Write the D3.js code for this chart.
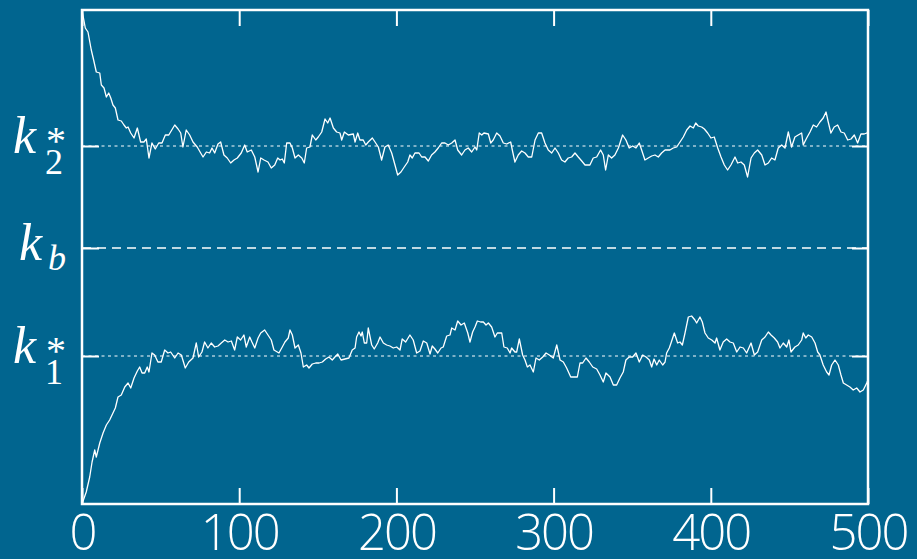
<!DOCTYPE html>
<html>
<head>
<meta charset="utf-8">
<script src="https://cdn.jsdelivr.net/npm/d3@7/dist/d3.min.js"></script>
<style>
  html, body { margin: 0; padding: 0; background: #01658f; }
  svg { display: block; }
</style>
</head>
<body>
<div id="chart"></div>
<script>
// 数据：两条轨迹 (t, k)，以及参考水平
const upperT = [0,2.1,3.8,5.9,7.4,9.1,11.3,12.3,14.0,15.5,17.0,18.3,19.7,21.2,22.9,25.0,26.7,28.2,29.3,31.0,33.1,35.2,37.3,39.4,40.9,42.6,44.5,46.6,48.8,50.9,53.0,55.2,59.0,61.1,62.8,64.2,66.3,68.5,70.6,73.3,75.5,77.0,79.1,81.2,82.7,84.4,86.5,88.2,90.3,92.4,94.6,96.7,98.8,101.3,103.5,105.1,107.7,109.9,112.0,113.7,115.8,118.3,120.4,122.6,124.5,126.0,127.4,128.7,130.2,132.3,133.8,135.5,137.6,139.8,141.4,142.9,145.0,146.5,148.7,150.3,152.5,154.6,156.3,157.8,159.9,162.0,164.1,165.2,166.9,169.4,172.6,173.7,175.4,176.8,178.9,180.5,182.1,184.7,186.4,188.5,190.6,192.7,194.8,197.0,199.1,200.8,202.9,205.0,207.2,208.6,210.1,211.8,214.4,216.1,218.2,220.3,222.4,224.5,226.6,228.8,230.9,233.0,235.2,237.3,239.0,241.5,243.6,245.7,247.9,250.0,251.1,252.7,254.3,255.7,258.5,260.0,261.6,263.8,265.9,268.0,270.2,272.7,274.0,275.4,277.5,279.7,281.8,283.9,286.1,288.2,290.3,292.4,294.5,296.6,298.8,300.9,303.0,305.1,307.2,309.3,311.5,313.6,315.7,317.9,320.0,323.1,325.2,327.4,329.9,331.6,333.1,334.8,336.9,339.0,341.2,343.9,346.0,348.1,350.3,352.4,354.5,356.0,358.1,360.2,362.4,364.5,366.6,368.7,370.9,374.0,376.1,378.3,380.4,382.5,384.7,386.8,388.9,390.4,392.0,394.2,395.9,398.0,400.1,402.2,404.4,406.5,408.6,410.7,412.8,415.4,417.1,419.2,421.3,423.4,425.6,427.7,429.8,432.4,434.5,436.6,438.7,440.8,442.9,445.1,447.2,449.3,451.4,453.5,455.6,457.8,458.8,461.0,463.1,465.2,467.3,469.4,471.5,473.3,474.7,476.4,478.5,480.7,482.8,484.9,487.1,489.2,491.3,493.4,495.5,497.6,499.2,500];
const upperK = [4.94,4.76,4.72,4.54,4.44,4.32,4.31,4.19,4.16,4.07,4.11,4.06,3.99,3.96,3.84,3.83,3.79,3.76,3.77,3.71,3.66,3.76,3.62,3.62,3.65,3.46,3.61,3.55,3.61,3.61,3.69,3.69,3.79,3.75,3.71,3.57,3.74,3.69,3.62,3.57,3.51,3.47,3.52,3.51,3.56,3.51,3.60,3.62,3.49,3.46,3.41,3.44,3.46,3.51,3.59,3.52,3.54,3.47,3.32,3.46,3.44,3.42,3.36,3.39,3.46,3.44,3.45,3.41,3.61,3.61,3.56,3.46,3.49,3.46,3.41,3.56,3.57,3.69,3.64,3.67,3.72,3.85,3.81,3.86,3.76,3.72,3.71,3.64,3.72,3.69,3.70,3.62,3.71,3.64,3.64,3.59,3.62,3.66,3.62,3.57,3.44,3.57,3.59,3.51,3.39,3.29,3.32,3.37,3.42,3.49,3.46,3.51,3.51,3.47,3.47,3.43,3.49,3.52,3.56,3.61,3.61,3.59,3.61,3.64,3.54,3.49,3.54,3.56,3.52,3.57,3.54,3.71,3.69,3.71,3.70,3.61,3.64,3.71,3.68,3.61,3.60,3.62,3.52,3.42,3.49,3.53,3.51,3.47,3.47,3.64,3.71,3.71,3.61,3.54,3.51,3.56,3.51,3.44,3.42,3.46,3.47,3.51,3.47,3.43,3.39,3.39,3.46,3.47,3.54,3.49,3.34,3.49,3.46,3.49,3.56,3.69,3.64,3.56,3.58,3.56,3.61,3.54,3.44,3.46,3.48,3.49,3.47,3.51,3.54,3.54,3.56,3.57,3.62,3.67,3.74,3.78,3.76,3.81,3.78,3.77,3.75,3.71,3.66,3.67,3.56,3.47,3.39,3.34,3.39,3.47,3.41,3.42,3.39,3.27,3.46,3.51,3.54,3.49,3.39,3.41,3.46,3.44,3.56,3.59,3.56,3.72,3.57,3.67,3.69,3.71,3.59,3.66,3.72,3.79,3.77,3.82,3.86,3.92,3.82,3.71,3.77,3.79,3.72,3.71,3.64,3.65,3.69,3.61,3.70,3.70,3.71,3.71];

const lowerT = [0,2.7,4.9,6.4,8.1,9.1,11.3,13.4,15.5,17.6,19.7,21.2,22.9,25.0,27.2,29.3,31.0,33.1,35.2,36.7,38.2,39.9,41.5,42.6,44.5,46.2,48.3,50.4,52.6,54.7,56.4,59.0,61.1,63.2,65.7,67.9,70.6,72.7,74.2,76.3,78.0,80.1,82.2,84.4,86.5,88.6,90.8,92.9,95.0,97.1,98.8,100.9,103.0,104.5,106.7,108.1,109.9,112.0,113.7,116.2,118.3,120.4,122.1,125.3,127.4,129.1,131.2,132.3,133.8,135.5,137.6,139.3,140.8,142.9,144.4,146.5,148.7,150.8,152.9,155.0,157.1,159.2,160.9,162.7,164.8,167.3,169.8,171.9,173.7,174.7,176.2,177.5,178.3,179.6,181.1,182.1,184.3,185.9,188.1,189.6,191.7,193.8,195.9,198.0,200.2,202.3,203.7,205.9,208.6,210.7,212.9,215.0,217.1,219.3,221.4,222.8,224.5,226.3,228.4,229.8,232.0,234.1,235.2,237.3,239.0,241.1,243.2,245.4,246.8,248.5,250.0,251.5,253.6,255.3,257.0,258.5,260.6,262.7,264.2,267.0,268.4,270.5,272.3,273.3,275.4,276.5,278.2,280.3,281.8,283.3,285.0,287.1,288.8,290.9,293.1,295.2,297.3,299.8,302.0,304.1,306.2,308.3,310.9,313.6,315.1,316.8,318.5,320.6,322.7,324.9,327.4,329.5,331.6,333.3,335.9,338.0,340.1,342.2,344.3,346.0,348.1,350.3,352.4,354.5,356.7,358.8,360.9,362.4,363.9,365.6,367.2,369.4,370.9,371.9,373.6,374.7,376.8,378.9,380.4,381.9,383.6,385.7,387.8,389.9,391.0,393.1,394.6,396.3,398.4,400.6,402.7,403.7,405.8,407.9,410.1,412.2,414.3,416.5,418.6,420.7,422.8,425.6,427.7,429.8,432.4,434.5,436.6,438.3,440.4,442.5,444.0,446.1,448.3,449.7,451.0,453.5,455.6,457.8,458.8,460.4,462.0,464.2,466.3,468.0,469.4,471.5,473.7,475.2,476.9,479.0,481.1,482.8,484.3,486.4,488.5,490.6,492.8,494.9,497.0,499.2,500];
const lowerK = [0.00,0.12,0.27,0.42,0.54,0.47,0.61,0.71,0.79,0.84,0.91,0.96,1.07,1.09,1.17,1.21,1.16,1.26,1.33,1.37,1.31,1.31,1.37,1.32,1.51,1.49,1.42,1.42,1.54,1.51,1.52,1.46,1.51,1.49,1.36,1.42,1.46,1.61,1.47,1.52,1.62,1.56,1.61,1.57,1.58,1.61,1.64,1.62,1.63,1.54,1.67,1.64,1.69,1.57,1.67,1.62,1.56,1.66,1.71,1.74,1.69,1.64,1.54,1.51,1.57,1.62,1.66,1.74,1.69,1.56,1.59,1.51,1.37,1.39,1.36,1.40,1.41,1.41,1.42,1.45,1.47,1.44,1.47,1.50,1.44,1.45,1.46,1.54,1.56,1.67,1.72,1.68,1.72,1.61,1.61,1.76,1.59,1.55,1.61,1.67,1.61,1.59,1.58,1.56,1.57,1.54,1.65,1.62,1.69,1.64,1.51,1.53,1.63,1.61,1.50,1.58,1.55,1.51,1.56,1.57,1.68,1.69,1.76,1.74,1.83,1.79,1.81,1.71,1.62,1.72,1.77,1.83,1.82,1.82,1.79,1.81,1.77,1.67,1.71,1.71,1.57,1.56,1.51,1.56,1.52,1.52,1.65,1.49,1.44,1.37,1.39,1.32,1.46,1.44,1.47,1.51,1.49,1.46,1.59,1.44,1.42,1.36,1.27,1.27,1.27,1.41,1.41,1.46,1.42,1.37,1.35,1.29,1.22,1.31,1.27,1.19,1.19,1.26,1.32,1.44,1.47,1.47,1.51,1.42,1.49,1.47,1.44,1.37,1.45,1.39,1.44,1.39,1.42,1.51,1.56,1.61,1.71,1.61,1.62,1.59,1.71,1.87,1.88,1.84,1.81,1.87,1.82,1.71,1.66,1.64,1.61,1.66,1.54,1.62,1.65,1.62,1.61,1.52,1.57,1.56,1.51,1.61,1.49,1.52,1.64,1.67,1.72,1.69,1.66,1.62,1.56,1.61,1.57,1.64,1.52,1.57,1.59,1.64,1.71,1.66,1.69,1.67,1.61,1.52,1.49,1.39,1.32,1.29,1.39,1.44,1.39,1.29,1.21,1.19,1.17,1.14,1.16,1.12,1.14,1.21,1.24];

// 参考水平 k1*, kb, k2*
const levelNames = ['k1', 'kb', 'k2'];
const levelValues = [1.48, 2.56, 3.58];
const xTicks = [0, 100, 200, 300, 400, 500];

const W = 917, H = 559;
const margin = { left: 82, right: 49, top: 10, bottom: 55 };

const svg = d3.select('#chart').append('svg')
    .attr('width', W)
    .attr('height', H);

svg.append('rect').attr('width', W).attr('height', H).attr('fill', '#01658f');

const x = d3.scaleLinear().domain([0, 500]).range([margin.left, W - margin.right]);
const y = d3.scaleLinear().domain([0, 4.94]).range([H - margin.bottom, margin.top]);

// 参考线
const lvl = levelNames.map((n, i) => ({ name: n, v: levelValues[i] }));
svg.selectAll('.ref')
    .data(lvl)
    .enter()
    .append('line')
    .attr('class', 'ref')
    .attr('x1', x(0))
    .attr('x2', x(500))
    .attr('y1', d => y(d.v))
    .attr('y2', d => y(d.v))
    .attr('stroke', '#fff')
    .attr('stroke-width', d => d.name === 'kb' ? 1.5 : 1)
    .attr('stroke-dasharray', d => d.name === 'kb' ? '9,6' : '3,3.5');

// 轨迹
const line = d3.line().x(d => x(d[0])).y(d => y(d[1]));
const series = [d3.zip(upperT, upperK), d3.zip(lowerT, lowerK)];
svg.selectAll('.trace')
    .data(series)
    .enter()
    .append('path')
    .attr('class', 'trace')
    .attr('d', line)
    .attr('fill', 'none')
    .attr('stroke', '#fff')
    .attr('stroke-width', 1.3)
    .attr('stroke-linejoin', 'round');

// 坐标轴（刻度朝内）
function styleAxis(g) {
    g.select('.domain').remove();
    g.selectAll('.tick line').attr('stroke', '#fff').attr('stroke-width', 2);
}

const xAxis = svg.append('g')
    .attr('transform', `translate(0,${y(0)})`)
    .call(d3.axisBottom(x).tickValues(xTicks).tickSize(-16).tickFormat(d3.format('d')))
    .call(styleAxis);
xAxis.selectAll('text')
    .attr('y', 46)
    .attr('dy', null)
    .attr('fill', '#fff')
    .style('font-family', '"Open Sans", "Liberation Sans", sans-serif')
    .style('font-weight', 300)
    .style('font-size', '49px')
    .style('letter-spacing', '-2px');

svg.append('g')
    .attr('transform', `translate(0,${y(4.94)})`)
    .call(d3.axisTop(x).tickValues(xTicks).tickSize(-16).tickFormat(''))
    .call(styleAxis);

svg.append('g')
    .attr('transform', `translate(${x(0)},0)`)
    .call(d3.axisLeft(y).tickValues(levelValues).tickSize(-17).tickFormat(''))
    .call(styleAxis);

svg.append('g')
    .attr('transform', `translate(${x(500)},0)`)
    .call(d3.axisRight(y).tickValues(levelValues).tickSize(-16).tickFormat(''))
    .call(styleAxis);

// 边框
svg.append('rect')
    .attr('x', x(0))
    .attr('y', y(4.94))
    .attr('width', x(500) - x(0))
    .attr('height', y(0) - y(4.94))
    .attr('fill', 'none')
    .attr('stroke', '#fff')
    .attr('stroke-width', 2.5);

// y 轴数学标签：k 加上下标，一个 text 内用 tspan 排版
const labelSpec = {
    k2: { kx: 13, kdy: 7, sub: '2', sx: 45, sdy: 28, star: true },
    kb: { kx: 19, kdy: 12, sub: 'b', sx: 48, sdy: 22, star: false, subItalic: true },
    k1: { kx: 13, kdy: 7, sub: '1', sx: 45, sdy: 28, star: true }
};
const serif = '"Liberation Serif", "DejaVu Serif", serif';
lvl.forEach(d => {
    const s = labelSpec[d.name];
    const ty = y(d.v);
    const t = svg.append('text')
        .attr('fill', '#fff')
        .style('font-family', serif);
    t.append('tspan')
        .attr('x', s.kx).attr('y', ty + s.kdy)
        .style('font-style', 'italic').style('font-size', '52px')
        .text('k');
    if (s.star) {
        t.append('tspan')
            .attr('x', s.sx + 1).attr('y', ty + 8)
            .style('font-size', '40px')
            .text('*');
    }
    t.append('tspan')
        .attr('x', s.sx).attr('y', ty + s.sdy)
        .style('font-style', s.subItalic ? 'italic' : 'normal').style('font-size', '36px')
        .text(s.sub);
});
</script>
</body>
</html>
